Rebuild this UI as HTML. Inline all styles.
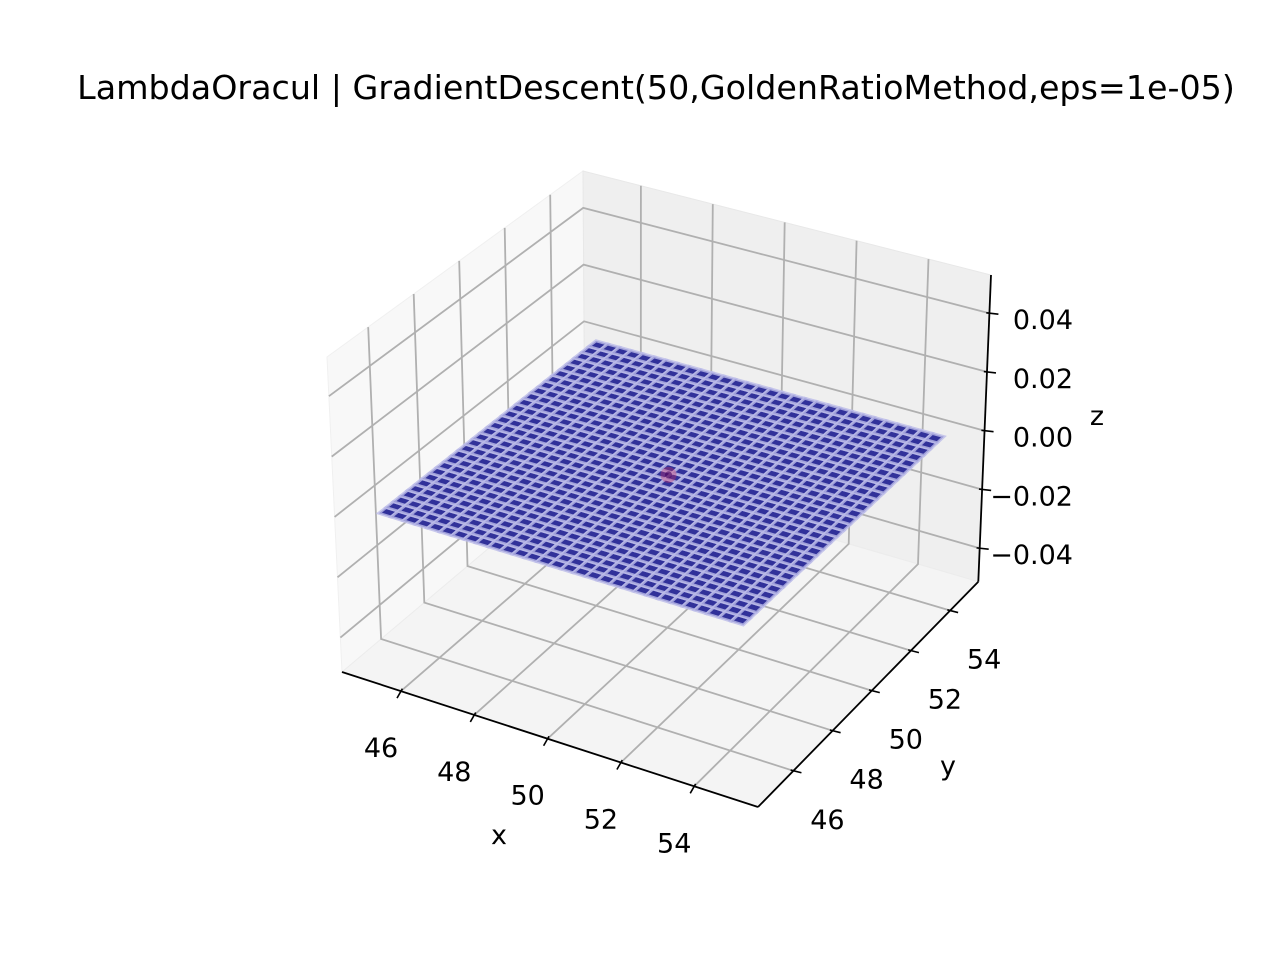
<!DOCTYPE html>
<html><head><meta charset="utf-8"><style>
html,body{margin:0;padding:0;background:#fff}
svg{display:block}
text{font-family:"DejaVu Sans","Liberation Sans",sans-serif;fill:#000}
</style></head><body>
<svg id="chart" width="1280" height="960" viewBox="0 0 1280 960" xmlns="http://www.w3.org/2000/svg">
<rect width="1280" height="960" fill="#fff"/>
<text x="656" y="99" font-size="33.3" text-anchor="middle">LambdaOracul | GradientDescent(50,GoldenRatioMethod,eps=1e-05)</text>
<g id="panes"></g>
<g id="grid"></g>
<g id="surface"></g>
<g id="marks"></g>
<g id="axes"></g>
</svg>
<script>
const xTicks = [46, 48, 50, 52, 54];
const yTicks = [46, 48, 50, 52, 54];
const zTicks = [-0.04, -0.02, 0.00, 0.02, 0.04];
const zTickLabels = ["\u22120.04", "\u22120.02", "0.00", "0.02", "0.04"];
const surfaceXRange = [45, 55];
const surfaceYRange = [45, 55];
const surfaceCells = 30;
const surfaceZLevel = 0;
const minimumPoint = [50, 50, 0];

const XL=[44.39,55.74], YL=[44.19,55.44], ZL=[-0.0514,0.0530];
const C={
 '000':[342,672],'100':[758,807],'010':[585,467],'110':[978.3,581.7],
 '001':[327,357],'101':[755,482],'011':[583,171],'111':[991,275]};
function lerp(a,b,t){return [a[0]+(b[0]-a[0])*t,a[1]+(b[1]-a[1])*t];}
function P(x,y,z){
  const u=(x-XL[0])/(XL[1]-XL[0]), v=(y-YL[0])/(YL[1]-YL[0]), w=(z-ZL[0])/(ZL[1]-ZL[0]);
  const b=lerp(lerp(C['000'],C['100'],u),lerp(C['010'],C['110'],u),v);
  const t=lerp(lerp(C['001'],C['101'],u),lerp(C['011'],C['111'],u),v);
  return lerp(b,t,w);
}
// small perspective correction for the surface plane
const SC=[666,474];
function PS(x,y,z){const p=P(x,y,z);return [SC[0]+(p[0]-SC[0])*0.984-1,SC[1]+(p[1]-SC[1])*0.986+4];}
const NS='http://www.w3.org/2000/svg';
function mk(tag,attrs,parent){const e=document.createElementNS(NS,tag);for(const k in attrs)e.setAttribute(k,attrs[k]);parent.appendChild(e);return e;}
function pts(a){return a.map(p=>p[0].toFixed(1)+','+p[1].toFixed(1)).join(' ');}
const panes=document.getElementById('panes'),grid=document.getElementById('grid'),surf=document.getElementById('surface'),marks=document.getElementById('marks'),axes=document.getElementById('axes');
const [x0,x1]=XL,[y0,y1]=YL,[z0,z1]=ZL;
let e;
e=mk('polygon',{points:pts([P(x0,y0,z0),P(x0,y1,z0),P(x0,y1,z1),P(x0,y0,z1)]),fill:'#f8f8f8',stroke:'#f0f0f0'},panes);


e=mk('polygon',{points:pts([P(x0,y1,z0),P(x1,y1,z0),P(x1,y1,z1),P(x0,y1,z1)]),fill:'#efefef',stroke:'#e8e8e8'},panes);


e=mk('polygon',{points:pts([P(x0,y0,z0),P(x1,y0,z0),P(x1,y1,z0),P(x0,y1,z0)]),fill:'#f4f4f4',stroke:'#ececec'},panes);


const gs={stroke:'#b0b0b0','stroke-width':1.8,fill:'none'};
xTicks.forEach(x=>{
  e=mk('polyline',Object.assign({points:pts([P(x,y0,z0),P(x,y1,z0),P(x,y1,z1)])},gs),grid);
  
  
});
yTicks.forEach(y=>{
  e=mk('polyline',Object.assign({points:pts([P(x1,y,z0),P(x0,y,z0),P(x0,y,z1)])},gs),grid);
  
  
});
zTicks.forEach(z=>{
  e=mk('polyline',Object.assign({points:pts([P(x0,y0,z),P(x0,y1,z),P(x1,y1,z)])},gs),grid);
  
  
});
// surface
const sx=(surfaceXRange[1]-surfaceXRange[0])/surfaceCells, sy=(surfaceYRange[1]-surfaceYRange[0])/surfaceCells;
for(let i=0;i<surfaceCells;i++){for(let j=0;j<surfaceCells;j++){
  const xa=surfaceXRange[0]+i*sx,xb=xa+sx,ya=surfaceYRange[0]+j*sy,yb=ya+sy,z=surfaceZLevel;
  e=mk('polygon',{points:pts([PS(xa,ya,z),PS(xb,ya,z),PS(xb,yb,z),PS(xa,yb,z)]),fill:'#31319a',stroke:'#bcbce8','stroke-width':3,'stroke-opacity':0.8},surf);
  
  
}}
const mpr=P(minimumPoint[0],minimumPoint[1],minimumPoint[2]);
const mp=[mpr[0]+2,mpr[1]];
e=mk('circle',{cx:mp[0],cy:mp[1],r:8,fill:'#d03060','fill-opacity':0.35},marks);


e=mk('circle',{cx:mp[0],cy:mp[1],r:3.5,fill:'#400060','fill-opacity':0.6},marks);


// axes lines
const as={stroke:'#000','stroke-width':1.8,fill:'none'};
e=mk('line',Object.assign({x1:P(x0,y0,z0)[0],y1:P(x0,y0,z0)[1],x2:P(x1,y0,z0)[0],y2:P(x1,y0,z0)[1]},as),axes);


e=mk('line',Object.assign({x1:P(x1,y0,z0)[0],y1:P(x1,y0,z0)[1],x2:P(x1,y1,z0)[0],y2:P(x1,y1,z0)[1]},as),axes);


e=mk('line',Object.assign({x1:P(x1,y1,z0)[0],y1:P(x1,y1,z0)[1],x2:P(x1,y1,z1)[0],y2:P(x1,y1,z1)[1]},as),axes);


function tick(a,dx,dy){return mk('line',{x1:a[0]-dx*0.35,y1:a[1]-dy*0.35,x2:a[0]+dx,y2:a[1]+dy,stroke:'#000','stroke-width':1.6},axes);}
xTicks.forEach(x=>{
  const a=P(x,y0,z0);
  e=tick(a,-4,7);
  
  
  e=mk('text',{x:a[0]-20,y:a[1]+66,'font-size':27,'text-anchor':'middle'},axes);e.textContent=String(x);
  
  
});
yTicks.forEach(y=>{
  const a=P(x1,y,z0);
  e=tick(a,8,2);
  
  
  e=mk('text',{x:a[0]+34,y:a[1]+58,'font-size':27,'text-anchor':'middle'},axes);e.textContent=String(y);
  
  
});
zTicks.forEach((z,i)=>{
  const a=P(x1,y1,z);
  e=tick(a,9,1);
  
  
  e=mk('text',{x:1073,y:a[1]+16,'font-size':27,'text-anchor':'end'},axes);e.textContent=zTickLabels[i];
  
  
});
e=mk('text',{x:499,y:844,'font-size':27,'text-anchor':'middle'},axes);e.textContent='x';


e=mk('text',{x:948,y:775,'font-size':27,'text-anchor':'middle'},axes);e.textContent='y';


e=mk('text',{x:1097,y:425,'font-size':27,'text-anchor':'middle'},axes);e.textContent='z';


</script>
</body></html>
